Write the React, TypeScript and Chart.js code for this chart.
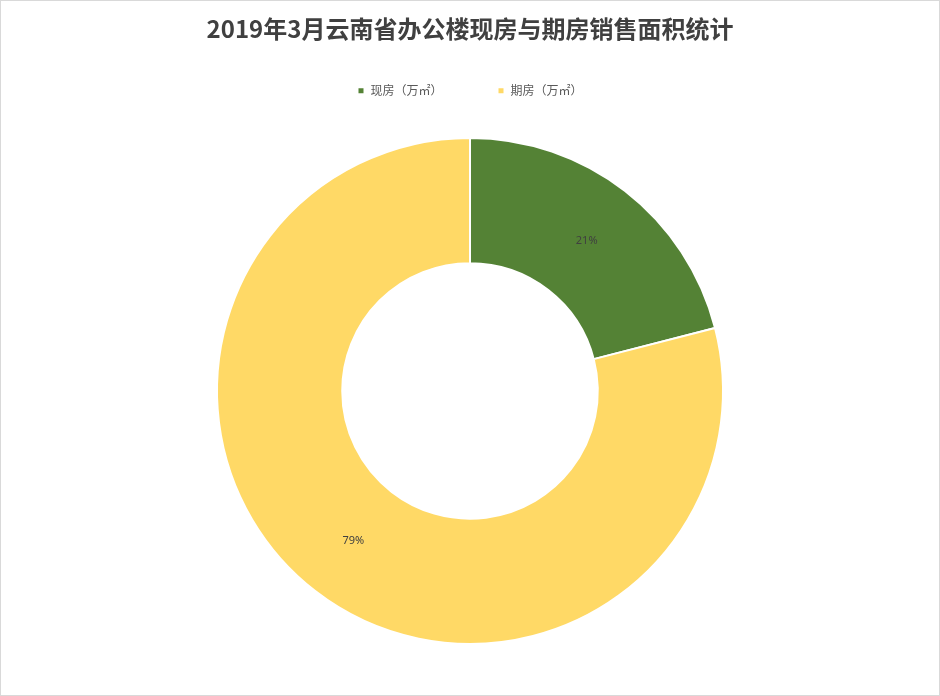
import { useEffect, useRef } from 'react';
import { Chart, ChartConfiguration, Plugin, registerables } from 'chart.js';

Chart.register(...registerables);

const categories = ['现房（万㎡）', '期房（万㎡）'];
const shares = [21, 79];
const colors = ['#548235', '#FFD966'];

const chartTitle = '2019年3月云南省办公楼现房与期房销售面积统计';

// draws the percentage at the middle of each slice
const sliceLabels: Plugin<'doughnut'> = {
  id: 'sliceLabels',
  afterDatasetsDraw(chart) {
    const { ctx } = chart;
    const meta = chart.getDatasetMeta(0);
    const values = chart.data.datasets[0].data as number[];
    const total = values.reduce((a, b) => a + b, 0);
    ctx.save();
    ctx.font = '11px "Noto Sans", "Noto Sans CJK SC", sans-serif';
    ctx.fillStyle = '#404040';
    ctx.textAlign = 'center';
    ctx.textBaseline = 'middle';
    meta.data.forEach((arc, i) => {
      const p = arc.getCenterPoint();
      ctx.fillText(Math.round((values[i] / total) * 100) + '%', p.x, p.y);
    });
    ctx.restore();
  }
};

function DoughnutChart() {
  const canvasRef = useRef<HTMLCanvasElement>(null);
  const chartRef = useRef<Chart | null>(null);

  useEffect(() => {
    if (!canvasRef.current) return;
    if (chartRef.current) chartRef.current.destroy();
    const ctx = canvasRef.current.getContext('2d');
    if (!ctx) return;

    const config: ChartConfiguration<'doughnut'> = {
      type: 'doughnut',
      data: {
        labels: categories,
        datasets: [{
          data: shares,
          backgroundColor: colors,
          borderColor: '#ffffff',
          borderWidth: 2
        }]
      },
      options: {
        responsive: false,
        animation: false,
        radius: 253,
        cutout: '50.5%',
        layout: { padding: { top: 0, bottom: 20 } },
        plugins: {
          title: {
            display: true,
            text: chartTitle,
            color: '#404040',
            font: { size: 24, weight: 'bold', family: '"Noto Sans CJK SC", sans-serif' },
            padding: { top: 13, bottom: -13 }
          },
          legend: {
            position: 'top',
            labels: {
              boxWidth: 7,
              boxHeight: 7,
              padding: 55,
              color: '#595959',
              font: { size: 12, family: '"Noto Sans CJK SC", sans-serif' }
            }
          },
          tooltip: { enabled: false }
        }
      },
      plugins: [sliceLabels]
    };

    chartRef.current = new Chart(ctx, config);
    return () => {
      if (chartRef.current) {
        chartRef.current.destroy();
        chartRef.current = null;
      }
    };
  }, []);

  return <canvas ref={canvasRef} width={938} height={694} style={{ display: 'block' }} />;
}

export default function App() {
  return (
    <div style={{ position: 'absolute', left: 0, top: 0, width: 940, height: 696, boxSizing: 'border-box', border: '1px solid #d9d9d9', background: '#fff' }}>
      <DoughnutChart />
    </div>
  );
}
